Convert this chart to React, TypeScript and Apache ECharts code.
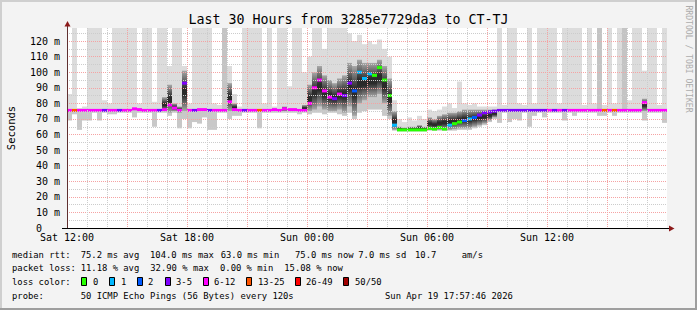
import React, { useEffect, useRef } from "react";
import * as echarts from "echarts";

// ---- data (15-minute slots from Sat 12:00, 120 slots = 30 h) ----
const SLOT_H = 0.25;
const Y_MAX = 128.4;
const X_TICK_LABELS = ["Sat 12:00", "Sat 18:00", "Sun 00:00", "Sun 06:00", "Sun 12:00"];
const LOSS_COLORS = ["#26ff00", "#00b8ff", "#0059ff", "#7e00ff", "#ff00ff", "#ff5500", "#ff0000", "#a10000"];
const LOSS_LABELS = ["0", "1", "2", "3-5", "6-12", "13-25", "26-49", "50/50"];

const MEDIAN = [
  75.5, 75.5, 75.5, 75.5, 75.5, 75.5, 75.5, 75.5, 75.5, 75.5, 75.5, 75.5,
  75.5, 76.5, 76, 75.5, 75.5, 75.5, 75.5, 76, 79, 77, 75.5, 93,
  75.5, 75.5, 76, 76, 75.5, 75.5, 75.5, 75.5, 81, 76, 75.5, 75.5,
  75.5, 75.5, 75.5, 75.5, 75.5, 76, 75.5, 76.5, 76, 76, 75.5, 75.5,
  80, 90, 95, 88, 84, 83, 86, 85, 93, 88, 100, 96,
  99, 98, 103, 95, 85, 66, 63, 63, 63, 63, 63, 63,
  64, 63.5, 64.5, 63.5, 66, 67, 68, 69, 70, 71, 72.5, 74,
  74.5, 75, 75.5, 75.5, 75.5, 75.5, 75.5, 75.5, 75.5, 75.5, 75.5, 75.5,
  75.5, 75.5, 75.5, 75.5, 75.5, 75.5, 75.5, 75.5, 75.5, 75.5, 75.5, 75.5,
  75.5, 75.5, 75.5, 75.5, 75.5, 75.5, 75.5, 80.5, 75.5, 75.5, 75.5, 75.5,
];

const LOSS = [
  4, 5, 4, 4, 4, 4, 4, 3, 4, 4, 3, 4,
  4, 4, 4, 4, 4, 4, 3, 4, 4, 4, 4, 3,
  4, 3, 4, 4, 3, 4, 4, 4, 4, 4, 4, 3,
  4, 4, 5, 4, 4, 4, 4, 4, 4, 4, 4, 4,
  4, 4, 4, 4, 4, 3, 4, 3, 3, 2, 1, 1,
  1, 0, 0, 0, 0, 1, 0, 0, 0, 0, 0, 0,
  0, 0, 0, 0, 1, 0, 0, 2, 1, 2, 3, 3,
  3, 3, 3, 3, 3, 3, 3, 3, 3, 3, 3, 3,
  4, 3, 4, 3, 4, 4, 4, 4, 4, 4, 4, 5,
  4, 5, 4, 4, 4, 4, 4, 4, 4, 4, 4, 4,
];

const HIGH = [
  86, 130, 77, 78, 130, 130, 130, 82, 80, 130, 130, 130,
  130, 130, 80, 130, 130, 81, 130, 130, 104, 130, 130, 104,
  80, 130, 130, 130, 130, 80, 79, 130, 104, 86, 78, 130,
  130, 130, 130, 80, 130, 78, 130, 130, 91, 130, 130, 100,
  110, 130, 130, 115, 130, 130, 130, 130, 125, 120, 124, 118,
  120, 118, 121, 115, 110, 82, 70, 68, 71, 69, 72, 70,
  76, 75, 76, 78, 80, 77, 94, 80, 79, 80, 78, 78,
  78, 78, 130, 79, 130, 130, 80, 79, 130, 80, 130, 130,
  130, 130, 80, 130, 130, 130, 130, 79, 130, 80, 130, 79,
  130, 80, 130, 130, 82, 130, 130, 101, 130, 130, 79, 130,
];

const LOW = [
  69, 73, 63, 69, 69, 74, 69, 74, 73, 73, 74, 74,
  74, 71, 74, 74, 74, 65, 74, 74, 72, 74, 64, 70,
  64, 68, 67, 71, 63, 63, 74, 74, 70, 72, 72, 74,
  74, 74, 64, 74, 74, 74, 74, 74, 74, 74, 73, 74,
  73, 74, 74, 73, 74, 74, 73, 72, 74, 70, 74, 75,
  76, 76, 76, 72, 70, 62.5, 62, 62, 62, 62, 62, 62,
  62.5, 62.5, 62.5, 62.5, 62.5, 62.5, 63, 63, 63, 64, 65, 66,
  68, 70, 67.5, 74, 68, 70, 69, 74, 65, 72, 74, 71,
  74, 74, 74, 69, 74, 72, 74, 74, 74, 74, 72, 72,
  74, 72, 74, 74, 74, 74, 74, 69, 74, 74, 74, 67.5,
];

const DARK_LO = [
  0, 0, 0, 0, 0, 0, 0, 0, 0, 0, 0, 0,
  0, 0, 0, 0, 0, 0, 0, 75, 74, 75, 74, 75,
  0, 0, 0, 0, 0, 0, 0, 0, 75, 75, 0, 0,
  0, 0, 0, 0, 0, 0, 0, 75, 0, 0, 0, 75,
  75, 76, 78, 76, 75, 75, 76, 74, 78, 72, 80, 82,
  84, 84, 86, 80, 72, 63, 62.5, 62.5, 62.5, 62.5, 62.5, 62.5,
  63, 63, 63, 63, 63, 63.5, 64, 64, 64, 65, 66, 67,
  69, 71, 0, 0, 0, 0, 0, 0, 0, 0, 0, 0,
  0, 0, 0, 0, 0, 0, 0, 0, 0, 0, 0, 0,
  0, 0, 0, 0, 0, 0, 0, 75, 0, 0, 0, 0,
];

const DARK_HI = [
  0, 0, 0, 0, 0, 0, 0, 0, 0, 0, 0, 0,
  0, 0, 0, 0, 0, 0, 0, 84, 92, 80, 78, 101,
  0, 0, 0, 0, 0, 0, 0, 0, 93, 80, 0, 0,
  0, 0, 0, 0, 0, 0, 0, 78, 0, 0, 0, 79,
  92, 100, 104, 98, 95, 93, 96, 98, 106, 104, 108, 106,
  106, 106, 108, 104, 96, 75, 65, 64.5, 65, 65, 66, 65,
  71, 70, 72, 73, 74, 74, 75, 76, 76, 76, 76, 76,
  76, 76, 0, 0, 0, 0, 0, 0, 0, 0, 0, 0,
  0, 0, 0, 0, 0, 0, 0, 0, 0, 0, 0, 0,
  0, 0, 0, 0, 0, 0, 0, 83, 0, 0, 0, 0,
];

const DARK_TALL = [31, 106, 111];

const TITLE = "Last 30 Hours from 3285e7729da3 to CT-TJ";
const RTT_STATS = ["75.2 ms avg", "104.0 ms max", "63.0 ms min", "75.0 ms now", "7.0 ms sd", "10.7", "am/s"];
const LOSS_STATS = ["11.18 % avg", "32.90 % max", "0.00 % min", "15.08 % now"];
const PROBE = "50 ICMP Echo Pings (56 Bytes) every 120s";
const STAMP = "Sun Apr 19 17:57:46 2026";

// ---- layout ----
const FONT = "DejaVu Sans Mono";
const LF = 8.85;
const RED = "#f5a3a3";
const GREY = "#cccccc";
const RTT_X = [80.7, 150, 220.7, 295, 358.3, 415, 461.7];
const LOSS_X = [80.7, 150.3, 220, 284.3];
const BOX_X = [81, 109, 137, 165, 203, 246, 295, 343];
const BOX_LABEL_X = [93, 121, 148, 176, 214, 258, 306, 355];

function txt(text: string, x: number, y: number, extra: any = {}) {
  return {
    type: "text",
    x,
    y,
    silent: true,
    style: {
      text,
      fill: "#000",
      fontFamily: FONT,
      fontSize: LF,
      align: "left",
      verticalAlign: "middle",
      ...extra,
    },
  };
}

function buildOption() {
  const data = MEDIAN.map((m, i) => [
    i * SLOT_H,
    m,
    LOSS[i],
    LOW[i],
    HIGH[i],
    DARK_LO[i],
    DARK_HI[i],
    DARK_TALL.includes(i) ? 1 : 0,
  ]);

  const darkGrad = () =>
    new echarts.graphic.LinearGradient(0, 0, 0, 1, [
      { offset: 0, color: "#a8a8a8" },
      { offset: 0.45, color: "#2a2a2a" },
      { offset: 0.6, color: "#2a2a2a" },
      { offset: 1, color: "#a8a8a8" },
    ]);

  const renderItem = (_params: any, api: any) => {
    const t = api.value(0);
    const med = api.value(1);
    const loss = api.value(2);
    const lo = api.value(3);
    const hi = Math.min(api.value(4), Y_MAX + 2);
    const dlo = api.value(5);
    const dhi = api.value(6);
    const dark = api.value(7);
    const p0 = api.coord([t, med]);
    const p1 = api.coord([t + SLOT_H, med]);
    const x = p0[0];
    const w = p1[0] - p0[0];
    const yMed = p0[1];
    const yHi = api.coord([t, hi])[1];
    const yLo = api.coord([t, lo])[1];
    const children: any[] = [];
    children.push({
      type: "rect",
      shape: { x, y: yHi, width: w, height: Math.max(0, yMed - yHi) },
      style: { fill: dark ? "#c4c4c4" : "#dcdcdc" },
    });
    children.push({
      type: "rect",
      shape: { x, y: yMed, width: w, height: Math.max(0, yLo - yMed) },
      style: { fill: "#c8c8c8" },
    });
    if (dhi > dlo) {
      const yd1 = api.coord([t, dhi])[1];
      const yd0 = api.coord([t, dlo])[1];
      children.push({
        type: "rect",
        shape: { x, y: yd1, width: w, height: yd0 - yd1 },
        style: { fill: darkGrad() },
      });
    }
    children.push({
      type: "rect",
      shape: { x, y: yMed - 1.5, width: w, height: 3 },
      style: { fill: LOSS_COLORS[loss] },
    });
    return { type: "group", children };
  };

  const graphics: any[] = [];
  // frame
  graphics.push({ type: "rect", shape: { x: 0, y: 0, width: 697, height: 2 }, style: { fill: "#cfcfcf" }, silent: true });
  graphics.push({ type: "rect", shape: { x: 0, y: 0, width: 2, height: 310 }, style: { fill: "#cfcfcf" }, silent: true });
  graphics.push({ type: "rect", shape: { x: 695, y: 0, width: 2, height: 310 }, style: { fill: "#9e9e9e" }, silent: true });
  graphics.push({ type: "rect", shape: { x: 0, y: 308, width: 697, height: 2 }, style: { fill: "#9e9e9e" }, silent: true });
  // arrows and axis extensions
  graphics.push({ type: "line", shape: { x1: 67.5, y1: 26, x2: 67.5, y2: 28 }, style: { stroke: "#603030", lineWidth: 1 }, silent: true, z: 10 });
  graphics.push({ type: "polygon", shape: { points: [[64.5, 26.5], [70.5, 26.5], [67.5, 21]] }, style: { fill: "#8c1a1a" }, silent: true, z: 10 });
  graphics.push({ type: "line", shape: { x1: 62, y1: 228.5, x2: 67, y2: 228.5 }, style: { stroke: "#000", lineWidth: 1 }, silent: true, z: 10 });
  graphics.push({ type: "line", shape: { x1: 667, y1: 228.5, x2: 669, y2: 228.5 }, style: { stroke: "#000", lineWidth: 1 }, silent: true, z: 10 });
  graphics.push({ type: "polygon", shape: { points: [[669, 225.5], [669, 231.5], [674.5, 228.5]] }, style: { fill: "#8c1a1a" }, silent: true, z: 10 });
  // title, y name, watermark
  graphics.push(txt(TITLE, 348.5, 19.5, { fontSize: 13.3, align: "center" }));
  graphics.push({
    type: "text",
    x: 10.5,
    y: 128,
    rotation: Math.PI / 2,
    silent: true,
    style: { text: "Seconds", fill: "#000", fontFamily: FONT, fontSize: 10.5, align: "center", verticalAlign: "middle" },
  });
  graphics.push({
    type: "text",
    x: 689,
    y: 59,
    rotation: -Math.PI / 2,
    silent: true,
    style: { text: "RRDTOOL / TOBI OETIKER", fill: "#acacac", fontFamily: FONT, fontSize: 8.1, align: "center", verticalAlign: "middle" },
  });
  // legend rows
  graphics.push(txt("median rtt:", 12, 254.5));
  RTT_STATS.forEach((s, i) => graphics.push(txt(s, RTT_X[i], 254.5)));
  graphics.push(txt("packet loss:", 12, 268));
  LOSS_STATS.forEach((s, i) => graphics.push(txt(s, LOSS_X[i], 268)));
  graphics.push(txt("loss color:", 12, 281.8));
  LOSS_LABELS.forEach((s, i) => {
    graphics.push({
      type: "rect",
      silent: true,
      shape: { x: BOX_X[i] + 0.5, y: 277.5, width: 5, height: 8 },
      style: { fill: LOSS_COLORS[i], stroke: "#000", lineWidth: 1 },
    });
    graphics.push(txt(s, BOX_LABEL_X[i], 281.8));
  });
  graphics.push(txt("probe:", 12, 295.7));
  graphics.push(txt(PROBE, 80.7, 295.7));
  graphics.push(txt(STAMP, 385, 295.7));

  return {
    animation: false,
    backgroundColor: "#f3f3f3",
    grid: { left: 67, right: 30, top: 28, bottom: 82, show: true, backgroundColor: "#ffffff", borderWidth: 0 },
    xAxis: {
      type: "value",
      min: 0,
      max: 30,
      interval: 1,
      z: 4,
      axisLine: { show: true, lineStyle: { color: "#000", width: 1 } },
      axisTick: { show: false },
      axisLabel: {
        interval: 0,
        margin: 4.5,
        lineHeight: 10,
        fontFamily: FONT,
        fontSize: 10,
        color: "#000",
        formatter: (v: number) => (v % 6 === 0 ? X_TICK_LABELS[v / 6] ?? "" : ""),
      },
      splitLine: { show: true, showMaxLine: false, lineStyle: { color: [RED, GREY, GREY], type: [1, 1], width: 1 } },
    },
    yAxis: {
      type: "value",
      min: 0,
      max: Y_MAX,
      interval: 5,
      z: 4,
      axisLine: { show: true, lineStyle: { color: "#603030", width: 1 } },
      axisTick: { show: false },
      axisLabel: {
        interval: 0,
        margin: 7,
        lineHeight: 8,
        fontFamily: FONT,
        fontSize: 10,
        color: "#000",
        showMaxLabel: false,
        formatter: (v: number) =>
          Math.round(v) % 10 === 0 && Math.abs(v - Math.round(v)) < 1e-6
            ? v === 0
              ? "0\u00a0\u00a0\u00a0"
              : `${Math.round(v)} m`
            : "",
      },
      splitLine: { show: true, showMaxLine: false, lineStyle: { color: [RED, GREY], type: [1, 1], width: 1 } },
    },
    series: [
      {
        type: "custom",
        z: 2,
        clip: true,
        renderItem,
        encode: { x: 0, y: 1 },
        data,
      },
    ],
    graphic: graphics,
  };
}

export default function App() {
  const ref = useRef<HTMLDivElement>(null);
  useEffect(() => {
    document.body.style.margin = "0";
    const chart = echarts.init(ref.current!, null, { renderer: "svg" });
    chart.setOption(buildOption() as any);
    return () => chart.dispose();
  }, []);
  return <div ref={ref} style={{ width: 697, height: 310 }} />;
}
